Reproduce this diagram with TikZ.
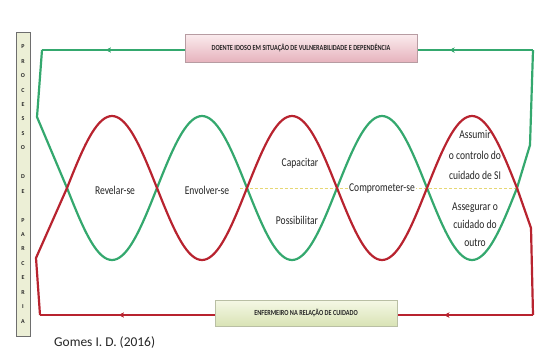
\documentclass[tikz,border=0pt]{standalone}
\usepackage{fontspec}
\setmainfont{Carlito}
\newfontfamily\narrowfont[FakeStretch=0.8]{Carlito}
\usepackage{tikz}
\usepackage{xcolor}
\usetikzlibrary{arrows.meta,positioning,decorations.markings}
\definecolor{wavered}{HTML}{B8232F}
\definecolor{wavegreen}{HTML}{34A86E}
\definecolor{labelink}{HTML}{262626}
\definecolor{pinktop}{HTML}{FBECEE}
\definecolor{pinkbot}{HTML}{E6B3BD}
\definecolor{pinkrim}{HTML}{B79CA2}
\definecolor{limetop}{HTML}{F5F8E6}
\definecolor{limebot}{HTML}{D9E3B5}
\definecolor{limerim}{HTML}{B9BFA4}
\definecolor{sidefill}{HTML}{ECEFD6}
\definecolor{siderim}{HTML}{6E6E6E}
\definecolor{midyellow}{HTML}{E6D774}
\tikzset{
  redline/.style={draw=wavered,line width=2.2pt,line join=round},
  greenline/.style={draw=wavegreen,line width=2.2pt,line join=round},
  flowmarks/.style={postaction={decorate},decoration={markings,
      mark=at position #1 with {\arrow{Stealth[length=5pt,width=5pt]}}}},
  midline/.style={draw=midyellow,line width=0.8pt,dash pattern=on 3pt off 2pt},
  wavelabel/.style={font=\narrowfont\fontsize{12}{13}\selectfont,text=labelink,
                    align=center,inner sep=1pt},
  banner/.style={font=\narrowfont\bfseries\fontsize{7.8}{8}\selectfont,text=labelink,
                 inner sep=0pt,line width=0.6pt},
  patientbox/.style={banner,draw=pinkrim,top color=pinktop,bottom color=pinkbot,
                     minimum width=232bp,minimum height=28bp},
  nursebox/.style={banner,draw=limerim,top color=limetop,bottom color=limebot,
                   minimum width=182bp,minimum height=26bp},
  sidebox/.style={draw=siderim,fill=sidefill,line width=0.8pt,
                  minimum width=14bp,minimum height=304bp,inner sep=0pt,
                  align=center,text=labelink,
                  font=\bfseries\fontsize{6}{14.5}\selectfont}
}

\begin{document}
\begin{tikzpicture}[x=1bp,y=-1bp]
    \useasboundingbox[fill=white] (0,0) rectangle (535,353);
    \coordinate (cross0) at (67,188);
    \coordinate (cross5) at (517,188);
    \coordinate (gtr) at (533,50);
    \coordinate (gtl) at (42,50);
    \coordinate (gleft) at (37,117);
    \coordinate (gright) at (530,145);
    \coordinate (rbr) at (533,315);
    \coordinate (rbl) at (40,315);
    \coordinate (rleft) at (36,258);
    \coordinate (rright) at (531,228);
    \draw[midline] (240,188) -- (cross5);
    \draw[greenline] (cross0) -- (gleft) -- (gtl);
    \draw[greenline,flowmarks=0.17,flowmarks=0.87] (gtr) -- (gtl);
    \draw[greenline] (cross5) -- (gright) -- (gtr);
    \draw[greenline] plot[domain=67:517,samples=181,smooth] (\x,{188+72*sin(2*(\x-67))});
    \draw[redline] (cross0) -- (rleft) -- (rbl);
    \draw[redline,flowmarks=0.18,flowmarks=0.84] (rbr) -- (rbl);
    \draw[redline] (cross5) -- (rright) -- (rbr);
    \draw[redline] plot[domain=67:517,samples=181,smooth] (\x,{188-72*sin(2*(\x-67))});
    \node[patientbox] (patient) at (301,48)
      {DOENTE IDOSO EM SITUAÇÃO DE VULNERABILIDADE E DEPENDÊNCIA};
    \node[nursebox] (nurse) at (306,313)
      {ENFERMEIRO NA RELAÇÃO DE CUIDADO};
    \node[sidebox] (process) at (23,184)
      {P\\R\\O\\C\\E\\S\\S\\O\\\mbox{}\\D\\E\\\mbox{}\\P\\A\\R\\C\\E\\R\\I\\A};
    \node[wavelabel] (reveal) at (115,190) {Revelar-se};
    \node[wavelabel] (involve) at (207,190) {Envolver-se};
    \node[wavelabel] (enable) at (300,163) {Capacitar};
    \node[wavelabel] (allow) at (297,220) {Possibilitar};
    \node[wavelabel,fill=white] (commit) at (382,189) {Comprometer-se};
    \node[wavelabel,font=\narrowfont\fontsize{12}{21}\selectfont] (assume) at (475,155)
      {Assumir\\o controlo do\\cuidado de SI};
    \node[wavelabel,font=\narrowfont\fontsize{12}{18}\selectfont] (assure) at (475,225)
      {Assegurar o\\cuidado do\\outro};
    \node[anchor=west,font=\fontsize{13.5}{15}\selectfont,text=labelink,inner sep=0pt]
      (source) at (54,343) {Gomes I. D. (2016)};
  \end{tikzpicture}
\end{document}
